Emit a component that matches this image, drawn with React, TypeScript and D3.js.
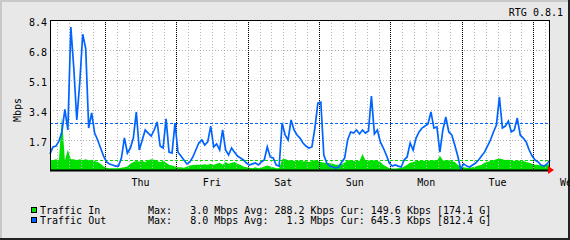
import React from "react";
import * as d3 from "d3";

// hours since start of window (Wed 05:36), one sample per hour
const trafficOut = [
  0.9, 1.29, 1.34, 1.62, 2.13, 3.4, 2.24, 8.0, 5.7, 2.8,
  4.9, 7.6, 6.8, 2.35, 3.2, 2.07, 1.68, 1.23, 0.78, 0.45,
  0.34, 0.28, 0.22, 0.22, 0.67, 1.8, 0.95, 1.23, 1.79, 3.25,
  1.12, 1.68, 2.24, 2.07, 1.9, 2.24, 2.69, 1.34, 1.23, 2.86,
  1.0, 0.95, 2.63, 1.0, 0.78, 0.56, 0.34, 0.45, 0.73, 1.12,
  1.51, 1.68, 1.4, 1.57, 2.46, 1.29, 1.46, 1.12, 2.24, 1.12,
  0.84, 1.23, 1.0, 0.78, 0.67, 0.56, 0.39, 0.28, 0.34, 0.39,
  0.28, 0.45, 0.56, 1.29, 0.73, 0.67, 0.28, 0.22, 2.63, 1.96,
  1.68, 2.8, 2.24, 1.96, 1.79, 1.51, 1.34, 1.23, 1.29, 2.35,
  3.75, 3.8, 0.84, 0.39, 0.22, 0.17, 0.11, 0.17, 0.45, 0.67,
  1.68, 2.13, 2.07, 2.24, 2.02, 2.24, 2.07, 2.18, 4.14, 2.02,
  2.24, 1.57, 1.23, 0.84, 0.39, 0.22, 0.28, 0.22, 0.17, 0.56,
  0.73, 1.51, 1.12, 1.79, 2.13, 2.35, 2.46, 2.58, 3.25, 2.35,
  2.41, 1.0, 2.24, 2.97, 2.13, 1.96, 1.4, 0.78, 0.06, 0.34,
  0.22, 0.17, 0.28, 0.39, 0.56, 0.78, 1.0, 1.34, 1.68, 2.13,
  2.52, 4.09, 2.35, 2.46, 2.74, 2.13, 2.24, 2.91, 1.96, 1.79,
  1.57, 1.12, 0.78, 0.56, 0.45, 0.28, 0.22, 0.34, 0.56,
];

const trafficIn = [
  0.45, 0.55, 0.6, 0.55, 3.0, 0.55, 1.14, 0.6, 0.6, 0.55,
  0.6, 0.55, 0.6, 0.55, 0.58, 0.5, 0.45, 0.35, 0.2, 0.12,
  0.1, 0.1, 0.1, 0.1, 0.12, 0.15, 0.2, 0.35, 0.45, 0.5,
  0.48, 0.5, 0.45, 0.55, 0.6, 0.58, 0.5, 0.45, 0.5, 0.4,
  0.3, 0.25, 0.2, 0.15, 0.15, 0.12, 0.18, 0.25, 0.28, 0.3,
  0.3, 0.3, 0.32, 0.3, 0.35, 0.3, 0.35, 0.4, 0.3, 0.45,
  0.35, 0.4, 0.45, 0.35, 0.3, 0.2, 0.15, 0.12, 0.1, 0.15,
  0.1, 0.12, 0.2, 0.25, 0.2, 0.15, 0.1, 0.1, 0.6, 0.62,
  0.55, 0.55, 0.5, 0.5, 0.55, 0.48, 0.5, 0.45, 0.5, 0.55,
  0.5, 0.45, 0.4, 0.4, 0.38, 0.35, 0.3, 0.3, 0.35, 0.4,
  0.55, 0.55, 0.5, 0.55, 0.5, 0.9, 0.55, 0.55, 0.5, 0.55,
  0.5, 0.45, 0.3, 0.2, 0.1, 0.08, 0.08, 0.1, 0.12, 0.2,
  0.3, 0.4, 0.45, 0.5, 0.5, 0.55, 0.5, 0.55, 0.52, 0.55,
  0.5, 0.8, 0.55, 0.5, 0.55, 0.5, 0.45, 0.3, 0.2, 0.15,
  0.12, 0.12, 0.15, 0.2, 0.25, 0.3, 0.4, 0.45, 0.5, 0.55,
  0.6, 0.65, 0.6, 0.55, 0.58, 0.55, 0.5, 0.55, 0.5, 0.5,
  0.45, 0.4, 0.35, 0.3, 0.3, 0.25, 0.28, 0.3, 0.35,
];

const pctOut = 2.61;
const pctIn = 0.54;

const yTicks = [1.68, 3.36, 5.04, 6.72, 8.4];
const yTickLabels = ["1.7", "3.4", "5.1", "6.8", "8.4"];
const dayLabels = ["Thu", "Fri", "Sat", "Sun", "Mon", "Tue", "Wed"];
const firstMidnight = 18.4; // hours after window start
const totalHours = 168;

const legendNames = ["Traffic In", "Traffic Out"];
const legendStats = [
  "Max:   3.0 Mbps Avg: 288.2 Kbps Cur: 149.6 Kbps [174.1 G]",
  "Max:   8.0 Mbps Avg:   1.3 Mbps Cur: 645.3 Kbps [812.4 G]",
];

const GREEN = "#00e000";
const BLUE = "#0064ff";
const FONT = "'DejaVu Sans Mono', 'Liberation Mono', monospace";

export default function App() {
  const W = 570, H = 240;
  const L = 50, R = 550, T = 20, B = 170;
  const x = d3.scaleLinear().domain([0, totalHours]).range([L, R]);
  const y = d3.scaleLinear().domain([0, 8.4]).range([B, T]);

  const area = d3
    .area<number>()
    .x((_, i) => x(i))
    .y0(B)
    .y1((d) => y(d));
  const line = d3
    .line<number>()
    .x((_, i) => x(i))
    .y((d) => y(d));

  const minor: number[] = [];
  for (let h = firstMidnight % 4; h < totalHours; h += 4) minor.push(h);
  const days: number[] = [];
  for (let h = firstMidnight; h < totalHours; h += 24) days.push(h);

  const px = (v: number) => Math.round(v) + 0.5;

  return (
    <div>
      <style>{"body{margin:0}"}</style>
      <svg width={W} height={H} style={{ display: "block" }} fontFamily={FONT}>
        <rect x={0} y={0} width={W} height={H} fill="#e8e8e8" />
        <rect x={0} y={0} width={W} height={2} fill="#c8c8c8" />
        <rect x={0} y={0} width={2} height={H} fill="#c8c8c8" />
        <rect x={0} y={H - 2} width={W} height={2} fill="#222" />
        <rect x={W - 2} y={0} width={2} height={H} fill="#222" />

        <rect x={L} y={T} width={R - L} height={B - T} fill="#fff" />

        <path d={area(trafficIn) || ""} fill={GREEN} />

        <g shapeRendering="crispEdges">
          {minor.map((h, i) => (
            <line key={"m" + i} x1={px(x(h))} x2={px(x(h))} y1={T} y2={B}
              stroke="#b4b4b4" strokeDasharray="1,2" />
          ))}
          {yTicks.map((v, i) => (
            <line key={"h" + i} x1={L} x2={R} y1={px(y(v))} y2={px(y(v))}
              stroke="#b4b4b4" strokeDasharray="1,2" />
          ))}
          {days.map((h, i) => (
            <line key={"d" + i} x1={px(x(h))} x2={px(x(h))} y1={T} y2={B}
              stroke="#000" strokeDasharray="1,1" />
          ))}
          <line x1={L} x2={R} y1={px(y(pctIn))} y2={px(y(pctIn))}
            stroke={GREEN} strokeDasharray="3,2" />
          <line x1={L} x2={R} y1={px(y(pctOut))} y2={px(y(pctOut))}
            stroke={BLUE} strokeDasharray="3,2" />
        </g>

        <path d={line(trafficOut) || ""} fill="none" stroke={BLUE} strokeWidth={1.7}
          strokeLinejoin="miter" />

        <rect x={L + 0.5} y={T + 0.5} width={R - L - 1} height={B - T} fill="none" stroke="#000" />
        <line x1={L} x2={R} y1={B + 0.5} y2={B + 0.5} stroke="#000" strokeWidth={2} />
        <path d={`M${R - 2},${B - 4}L${R - 2},${B + 4}L${R + 4},${B}Z`} fill="#f00" />

        {yTicks.map((v, i) => (
          <text key={"yl" + i} x={47} y={y(v) + 6} textAnchor="end" fontSize={10} fill="#000">
            {yTickLabels[i]}
          </text>
        ))}
        {dayLabels.map((d, i) => (
          <text key={"dl" + i} x={x(firstMidnight + 12 + 24 * i)} y={186} textAnchor="middle"
            fontSize={10} fill="#000">
            {d}
          </text>
        ))}
        <text transform="translate(21,110) rotate(-90)" textAnchor="middle" fontSize={10} fill="#000">
          Mbps
        </text>
        <text x={563} y={16} textAnchor="end" fontSize={10} fill="#000">RTG 0.8.1</text>

        {legendNames.map((n, i) => (
          <g key={"lg" + i}>
            <rect x={31.5} y={207.5 + i * 10} width={5} height={5}
              fill={i === 0 ? GREEN : BLUE} stroke="#000" />
            <text x={40} y={213.5 + i * 10} fontSize={10} fill="#000">{n}</text>
            <text x={148} y={213.5 + i * 10} fontSize={10} fill="#000" style={{ whiteSpace: "pre" }}>
              {legendStats[i]}
            </text>
          </g>
        ))}
      </svg>
    </div>
  );
}
